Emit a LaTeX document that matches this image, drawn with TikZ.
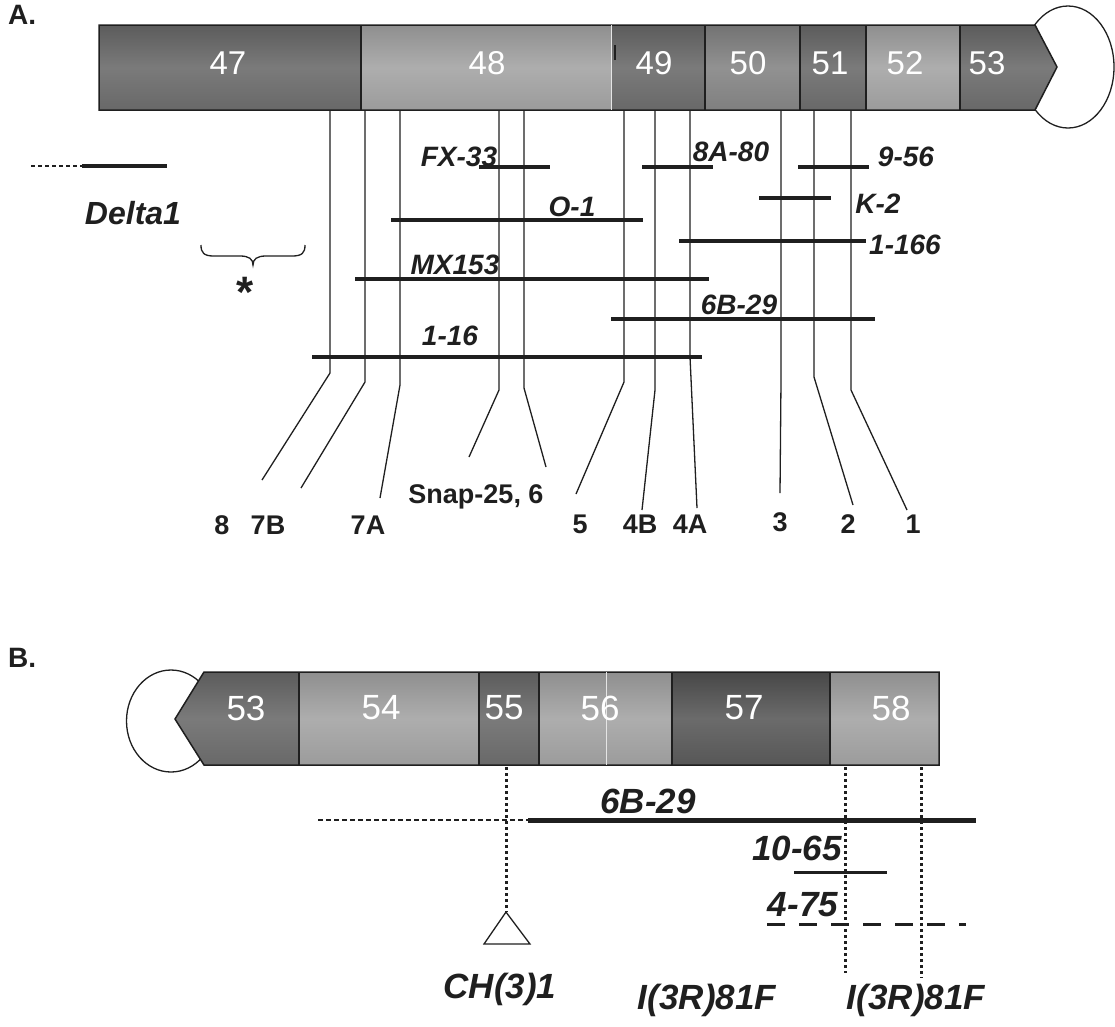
\documentclass[tikz,border=0pt]{standalone}
\usepackage{fontspec}
\setmainfont{Liberation Sans}
\definecolor{dkT}{gray}{0.36}\definecolor{dkM}{gray}{0.48}\definecolor{dkB}{gray}{0.41}
\definecolor{ltT}{gray}{0.56}\definecolor{ltM}{gray}{0.68}\definecolor{ltB}{gray}{0.61}
\definecolor{mdT}{gray}{0.45}\definecolor{mdM}{gray}{0.57}\definecolor{mdB}{gray}{0.50}
\definecolor{xdT}{gray}{0.28}\definecolor{xdM}{gray}{0.42}\definecolor{xdB}{gray}{0.34}
\definecolor{ink}{gray}{0.12}
\tikzset{
  darkseg/.style={top color=dkT,bottom color=dkB,middle color=dkM},
  lightseg/.style={top color=ltT,bottom color=ltB,middle color=ltM},
  medseg/.style={top color=mdT,bottom color=mdB,middle color=mdM},
  xdarkseg/.style={top color=xdT,bottom color=xdB,middle color=xdM},
  segnum/.style={text=white,inner sep=0,font=\fontsize{33}{33}\selectfont},
  segnumB/.style={text=white,inner sep=0,font=\fontsize{35}{35}\selectfont},
  outline/.style={draw=ink,line width=1.5pt},
  lab/.style={inner sep=0,font=\fontsize{28}{28}\selectfont\bfseries\itshape,text=ink},
  labB/.style={inner sep=0,font=\fontsize{35}{35}\selectfont\bfseries\itshape,text=ink},
  numlab/.style={inner sep=0,font=\fontsize{27}{27}\selectfont\bfseries,text=ink},
  panel/.style={inner sep=0,anchor=west,font=\fontsize{28}{28}\selectfont\bfseries,text=ink},
  guide/.style={draw=ink,line width=1.3pt},
  mapbar/.style={draw=ink,line width=3.2pt},
  dotv/.style={draw=ink,line width=3pt,dash pattern=on 3pt off 3pt},
}
\begin{document}
\begin{tikzpicture}[x=1pt,y=-1pt]
\useasboundingbox (0,0) rectangle (1115,1026);
% ================= Panel A =================
\node[panel] (pA) at (8,15) {A.};
\draw[line width=1.3pt,draw=ink] (1068,67) ellipse[x radius=46,y radius=61];
\shade[darkseg]  (99,25) rectangle (361,110);
\shade[lightseg] (361,25) rectangle (611,110);
\shade[darkseg]  (611,25) rectangle (705,110);
\shade[medseg]   (705,25) rectangle (800,110);
\shade[darkseg]  (800,25) rectangle (866,110);
\shade[lightseg] (866,25) rectangle (960,110);
\shade[darkseg]  (960,25) -- (1035,25) -- (1057,67) -- (1035,110) -- (960,110) -- cycle;
\draw[outline] (99,25) -- (1035,25) -- (1057,67) -- (1035,110) -- (99,110) -- cycle;
\foreach \x in {361,705,800,866,960} \draw[outline] (\x,25) -- (\x,110);
\draw[draw=white!80!gray,line width=1pt] (611,25) -- (611,110);
\draw[ink,line width=1.5pt] (615,45) -- (615,60);
\node[segnum] (s47) at (228,63) {47};
\node[segnum] (s48) at (487,63) {48};
\node[segnum] (s49) at (654,63) {49};
\node[segnum] (s50) at (748,63) {50};
\node[segnum] (s51) at (830,63) {51};
\node[segnum] (s52) at (905,63) {52};
\node[segnum] (s53) at (987,63) {53};
% breakpoint guide lines
\node[numlab] (b8)  at (222,525) {8};
\node[numlab] (b7B) at (268,525) {7B};
\node[numlab] (b7A) at (368,525) {7A};
\node[numlab] (bS)  at (476,497) {Snap-25, 6};
\node[numlab] (b5)  at (580,524) {5};
\node[numlab] (b4B) at (640,524) {4B};
\node[numlab] (b4A) at (690,524) {4A};
\node[numlab] (b3)  at (780,522) {3};
\node[numlab] (b2)  at (848,524) {2};
\node[numlab] (b1)  at (913,524) {1};
\foreach \x/\by/\ex/\ey in {330/373/262/480, 365/382/301/488, 400/385/380/498,
   499/390/469/457, 524/388/546/467, 624/382/576/494, 655/390/642/510,
   690/357/697/508, 781/380/780/493, 814/377/853/505, 851/390/907/510}
  \draw[guide] (\x,111) -- (\x,\by) -- (\ex,\ey);
% deletion map bars
\draw[draw=ink,line width=1.2pt,dash pattern=on 4pt off 3pt] (31,166) -- (82,166);
\draw[mapbar] (82,166) -- (167,166);
\node[lab,font=\fontsize{32}{32}\selectfont\bfseries\itshape] (dDelta) at (133,213) {Delta1};
\draw[mapbar] (479,167) -- (550,167);
\node[lab] (dFX) at (459,157) {FX-33};
\draw[mapbar] (642,167) -- (713,167);
\node[lab] (d8A) at (731,152) {8A-80};
\draw[mapbar] (798,167) -- (869,167);
\node[lab] (d956) at (906,157) {9-56};
\draw[mapbar] (759,198) -- (831,198);
\node[lab] (dK2) at (878,204) {K-2};
\draw[mapbar] (391,220) -- (643,220);
\node[lab] (dO1) at (572,207) {O-1};
\draw[mapbar] (679,241) -- (866,241);
\node[lab] (d1166) at (905,245) {1-166};
\draw[mapbar] (355,279) -- (709,279);
\node[lab] (dMX) at (455,265) {MX153};
\draw[mapbar] (611,319) -- (875,319);
\node[lab] (d6B) at (739,305) {6B-29};
\draw[mapbar] (312,357) -- (702,357);
\node[lab] (d116) at (450,336) {1-16};
% brace and star
\draw[draw=ink,line width=1.3pt] (201,245) .. controls (201,253) and (204,256) .. (214,256) -- (240,256)
  .. controls (249,256) and (253,259) .. (253,265) .. controls (253,259) and (257,256) .. (266,256)
  -- (292,256) .. controls (302,256) and (305,253) .. (305,245);
\node[inner sep=0,font=\fontsize{44}{44}\selectfont\bfseries,text=ink] (star) at (245,292) {*};
% ================= Panel B =================
\node[panel] (pB) at (8,658) {B.};
\draw[line width=1.3pt,draw=ink] (171,721) ellipse[x radius=44.5,y radius=51];
\shade[darkseg]  (204,672) -- (299,672) -- (299,765) -- (204,765) -- (175,719) -- cycle;
\shade[lightseg] (299,672) rectangle (479,765);
\shade[darkseg]  (479,672) rectangle (539,765);
\shade[lightseg] (539,672) rectangle (672,765);
\shade[xdarkseg] (672,672) rectangle (830,765);
\shade[lightseg] (830,672) rectangle (939,765);
\draw[outline] (204,672) -- (939,672) -- (939,765) -- (204,765) -- (175,719) -- cycle;
\foreach \x in {299,479,539,672,830} \draw[outline] (\x,672) -- (\x,765);
\draw[draw=white!80!gray,line width=1pt] (606,672) -- (606,765);
\node[segnumB] (t53) at (246,708) {53};
\node[segnumB] (t54) at (381,708) {54};
\node[segnumB] (t55) at (504,708) {55};
\node[segnumB] (t56) at (600,708) {56};
\node[segnumB] (t57) at (744,708) {57};
\node[segnumB] (t58) at (891,708) {58};
% dotted markers
\coordinate (triTop) at (506,912);
\draw[dotv] (506,767) -- (triTop);
\draw[draw=ink,line width=1.3pt] (triTop) -- (530,944) -- (484,944) -- cycle;
\draw[dotv] (845,767) -- (845,973);
\draw[dotv] (921,767) -- (921,978);
% map bars
\draw[draw=ink,line width=1.2pt,dash pattern=on 5pt off 3pt] (318,820) -- (528,820);
\draw[draw=ink,line width=5pt] (528,820) -- (976,820);
\node[labB] (e6B) at (648,801) {6B-29};
\draw[draw=ink,line width=3pt] (794,872) -- (887,872);
\node[labB] (e1065) at (797,848) {10-65};
\draw[draw=ink,line width=3pt,dash pattern=on 18pt off 14pt] (767,924) -- (966,924);
\node[labB] (e475) at (803,905) {4-75};
\node[labB] (eCH) at (500,989) {CH(3)1};
\node[labB] (eI1) at (707,1000) {I(3R)81F};
\node[labB] (eI2) at (916,1000) {I(3R)81F};
\end{tikzpicture}
\end{document}
